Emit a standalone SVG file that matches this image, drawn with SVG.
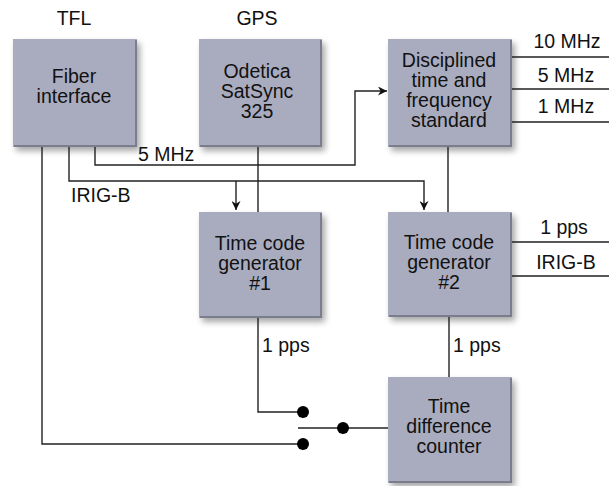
<svg xmlns="http://www.w3.org/2000/svg" width="609" height="486" viewBox="0 0 609 486">
<style>
text{font-family:"Liberation Sans",Arial,Helvetica,sans-serif;font-size:19.5px;fill:#111;}
.c{text-anchor:middle;}
.box{fill:#a9acbf;filter:url(#sh);}
.edge{fill:none;stroke:#7a7d8c;stroke-width:2;}
.ln{fill:none;stroke:#222;stroke-width:1.4;}
.dot{fill:#000;}
</style>
<defs>
<filter id="sh" x="-10%" y="-10%" width="130%" height="130%">
<feGaussianBlur in="SourceAlpha" stdDeviation="3"/>
<feOffset dx="3" dy="4" result="b"/>
<feComponentTransfer><feFuncA type="linear" slope="0.35"/></feComponentTransfer>
<feMerge><feMergeNode/><feMergeNode in="SourceGraphic"/></feMerge>
</filter>
<marker id="ar" viewBox="0 0 10 10" refX="10" refY="5" markerWidth="9" markerHeight="9" markerUnits="userSpaceOnUse" orient="auto">
<path d="M0,0 L10,5 L0,10 L3,5 Z" fill="#111"/>
</marker>
</defs>
<rect width="609" height="486" fill="#fff"/>
<text class="c" x="74" y="25">TFL</text>
<text class="c" x="257" y="25">GPS</text>

<g id="fiber">
<rect class="box" x="13" y="39" width="124" height="108"/>
<path class="edge" d="M136,40 V146 H14"/>
<text class="c" x="74" y="83">Fiber</text>
<text class="c" x="74" y="103">interface</text>
</g>
<g id="odetica">
<rect class="box" x="199" y="39" width="123" height="108"/>
<path class="edge" d="M321,40 V146 H200"/>
<text class="c" x="257" y="78">Odetica</text>
<text class="c" x="257" y="98">SatSync</text>
<text class="c" x="257" y="118">325</text>
</g>
<g id="disciplined">
<rect class="box" x="388" y="39" width="124" height="108"/>
<path class="edge" d="M511,40 V146 H389"/>
<text class="c" x="449" y="67">Disciplined</text>
<text class="c" x="449" y="87">time and</text>
<text class="c" x="449" y="107">frequency</text>
<text class="c" x="449" y="127">standard</text>
</g>
<g id="tcg1">
<rect class="box" x="199" y="212" width="123" height="106"/>
<path class="edge" d="M321,213 V317 H200"/>
<text class="c" x="260" y="250">Time code</text>
<text class="c" x="260" y="270">generator</text>
<text class="c" x="260" y="290">#1</text>
</g>
<g id="tcg2">
<rect class="box" x="388" y="212" width="124" height="105"/>
<path class="edge" d="M511,213 V316 H389"/>
<text class="c" x="449" y="249">Time code</text>
<text class="c" x="449" y="269">generator</text>
<text class="c" x="449" y="289">#2</text>
</g>
<g id="tdc">
<rect class="box" x="388" y="377" width="124" height="106"/>
<path class="edge" d="M511,378 V482 H389"/>
<text class="c" x="449" y="413">Time</text>
<text class="c" x="449" y="433">difference</text>
<text class="c" x="449" y="453">counter</text>
</g>

<g id="connectors">
<path class="ln" d="M95,147 V165 H355 V91 H387" marker-end="url(#ar)"/>
<path class="ln" d="M69,147 V181 H424 V210" marker-end="url(#ar)"/>
<path class="ln" d="M236,181 V210" marker-end="url(#ar)"/>
<path class="ln" d="M258,147 V212"/>
<path class="ln" d="M448,147 V212"/>
<path class="ln" d="M512,57 H609 M512,89 H609 M512,122 H609"/>
<path class="ln" d="M512,242 H609 M512,276 H609"/>
<path class="ln" d="M258,318 V412 H303"/>
<path class="ln" d="M449,317 V377"/>
<path class="ln" d="M42,147 V444 H303"/>
<path class="ln" d="M298,428 H388"/>
<circle class="dot" cx="303" cy="412" r="6"/>
<circle class="dot" cx="303" cy="444" r="6"/>
<circle class="dot" cx="343" cy="428" r="6"/>
</g>

<g id="labels">
<text x="138" y="161">5 MHz</text>
<text x="71" y="202">IRIG-B</text>
<text x="262" y="352">1 pps</text>
<text x="453" y="352">1 pps</text>
<text class="c" x="567" y="48">10 MHz</text>
<text class="c" x="566" y="82">5 MHz</text>
<text class="c" x="566" y="113">1 MHz</text>
<text class="c" x="564" y="234">1 pps</text>
<text class="c" x="566" y="269">IRIG-B</text>
</g>
</svg>
